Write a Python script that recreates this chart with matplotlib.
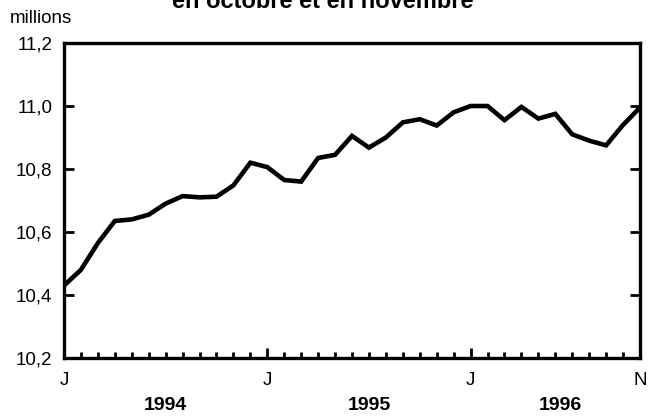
import matplotlib
matplotlib.use("Agg")
import matplotlib.pyplot as plt
import numpy as np

plt.rcParams["font.family"] = ["Liberation Sans", "DejaVu Sans"]

# monthly values, Jan 1994 .. Nov 1996 (millions)
values = [
    10.43, 10.48, 10.565, 10.635, 10.64, 10.655, 10.69, 10.714, 10.71, 10.712,
    10.748, 10.82, 10.806, 10.765, 10.76, 10.835, 10.845, 10.905, 10.868, 10.90,
    10.948, 10.958, 10.938, 10.98, 11.0, 11.0, 10.955, 10.997, 10.96, 10.975,
    10.91, 10.89, 10.875, 10.94, 10.995,
]
month_labels = {0: "J", 12: "J", 24: "J", 34: "N"}
year_labels = ["1994", "1995", "1996"]
year_pos = [6.0, 18.0, 29.3]
y_ticks = [10.2, 10.4, 10.6, 10.8, 11.0, 11.2]

fig = plt.figure(figsize=(6.49, 4.17), dpi=100)
ax = fig.add_axes([64 / 649, 59 / 417, 576 / 649, 315 / 417])

x = np.arange(len(values))
ax.plot(x, values, color="black", linewidth=3.3, solid_joinstyle="miter")

ax.set_xlim(0, len(values) - 1)
ax.set_ylim(10.2, 11.2)

for s in ax.spines.values():
    s.set_linewidth(2.4)

ax.set_yticks(y_ticks)
ax.set_yticklabels([f"{v:.1f}".replace(".", ",") for v in y_ticks], fontsize=13.5)
ax.tick_params(axis="y", direction="in", length=7.5, width=2, right=True, pad=8.5)

ax.set_xticks(list(month_labels.keys()))
ax.set_xticklabels(list(month_labels.values()), fontsize=13.5)
ax.set_xticks(x, minor=True)
ax.tick_params(axis="x", which="major", direction="in", length=7.5, width=2, pad=10)
ax.tick_params(axis="x", which="minor", direction="in", length=4, width=2)

# year labels below the month letters
for yl, xp in zip(year_labels, year_pos):
    ax.text(xp, -48 / 315, yl, transform=ax.get_xaxis_transform(), ha="center",
            va="center", fontsize=14, fontweight="bold")

fig.text(10 / 649, 1 - 23 / 417, "millions", fontsize=13.5, va="baseline", ha="left")
fig.text(323 / 649, 1 - 8 / 417, "en octobre et en novembre", fontsize=17,
         fontweight="bold", ha="center", va="baseline")

fig.savefig("out.png", dpi=100)
